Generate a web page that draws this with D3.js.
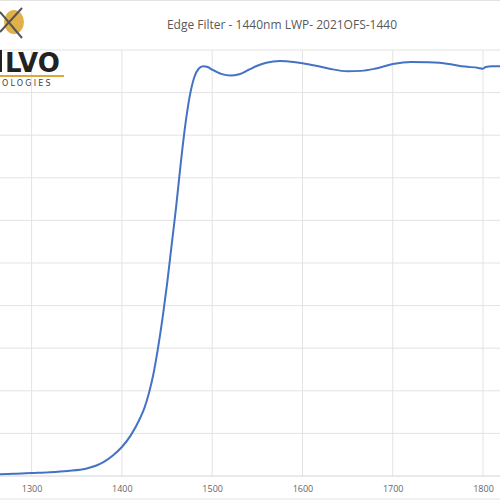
<!DOCTYPE html><html><head><meta charset="utf-8"><script src="https://cdn.jsdelivr.net/npm/d3@7"></script>
<style>body{margin:0;background:#fff}</style></head><body><svg width="500" height="500"></svg><script>
const wavelengths=[1260,1280,1300,1320,1340,1360,1380,1390,1400,1410,1420,1425,1430,1435,1440,1445,1450,1455,1460,1465,1470,1475,1480,1485,1490,1495,1500,1510,1520,1530,1540,1550,1560,1575,1590,1600,1615,1630,1650,1665,1680,1700,1720,1740,1760,1780,1795,1800,1803,1810,1825];
const transmission=[0.4,0.5,0.7,0.9,1.2,1.7,3.3,4.8,6.8,9.6,13.5,16,19.5,24,30,37,45,54,63,73,82,89,93.5,95.6,96.2,96,95.4,94.4,94,94.3,95.3,96.3,97,97.4,97.2,96.9,96.3,95.6,95,95.1,95.6,96.7,97.2,97.1,96.8,96.1,95.8,95.6,96,96.2,96.2];
const xTicks=[1300,1400,1500,1600,1700,1800];
const yTicks=[0,10,20,30,40,50,60,70,80,90,100];
const title="Edge Filter - 1440nm LWP- 2021OFS-1440";
const svg=d3.select("svg");
const x=d3.scaleLinear().domain([1265,1800]).range([0,483]);
const y=d3.scaleLinear().domain([0,100]).range([476,50]);
const g=svg.append("g");
g.selectAll(".v").data(xTicks).join("line").attr("x1",d=>x(d)).attr("x2",d=>x(d)).attr("y1",50).attr("y2",476).attr("stroke","#e3e3e3");
g.selectAll(".h").data(yTicks).join("line").attr("x1",0).attr("x2",500).attr("y1",d=>y(d)).attr("y2",d=>y(d)).attr("stroke",d=>d===0?"#d4d4d4":"#e3e3e3");
svg.append("line").attr("x1",0).attr("x2",500).attr("y1",0.5).attr("y2",0.5).attr("stroke","#e3e3e3");
svg.append("line").attr("x1",0).attr("x2",500).attr("y1",499).attr("y2",499).attr("stroke","#e3e3e3");
const ax=d3.axisBottom(x).tickValues(xTicks).tickSize(0).tickPadding(10).tickFormat(d3.format("d"));
const axg=svg.append("g").attr("transform","translate(0,476)").call(ax);
axg.select(".domain").remove();
axg.selectAll("text").attr("fill","#666").attr("font-family","Open Sans, sans-serif").attr("font-size",9);
svg.append("path").datum(wavelengths.map((w,i)=>[w,transmission[i]])).attr("fill","none").attr("stroke","#4472C4").attr("stroke-width",2)
 .attr("d",d3.line().x(d=>x(d[0])).y(d=>y(d[1])).curve(d3.curveMonotoneX));
svg.append("text").attr("x",282).attr("y",29).attr("text-anchor","middle").attr("fill","#595959").attr("font-family","Open Sans, sans-serif").attr("font-size",12).text(title);
const lg=svg.append("g");
lg.append("ellipse").attr("cx",14).attr("cy",22).attr("rx",10).attr("ry",12).attr("fill","#e0b04a");
lg.append("line").attr("x1",0).attr("y1",12).attr("x2",22).attr("y2",38).attr("stroke","#555").attr("stroke-width",2);
lg.append("line").attr("x1",0).attr("y1",32).attr("x2",22).attr("y2",8).attr("stroke","#555").attr("stroke-width",2);
lg.append("rect").attr("x",0).attr("y",50).attr("width",2).attr("height",22).attr("fill","#222");
lg.append("text").attr("x",5).attr("y",72).attr("font-family","DejaVu Sans, sans-serif").attr("font-size",26).attr("fill","#222").attr("font-weight","bold").text("LVO");
lg.append("rect").attr("x",0).attr("y",75).attr("width",64).attr("height",2).attr("fill","#d9a93b");
lg.append("text").attr("x",2).attr("y",86).attr("font-family","DejaVu Sans, sans-serif").attr("font-size",8).attr("letter-spacing",2.2).attr("fill","#444").text("OLOGIES");
</script></body></html>
